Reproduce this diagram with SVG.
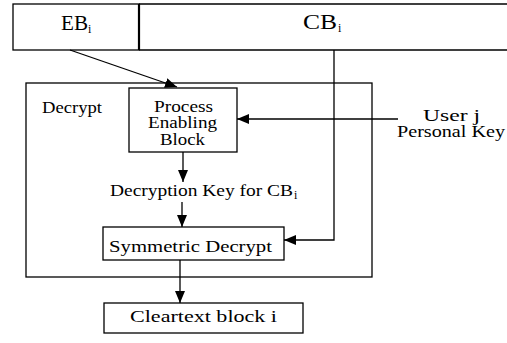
<svg xmlns="http://www.w3.org/2000/svg" width="507" height="343" viewBox="0 0 507 343">
<style>
.box{fill:#fff;stroke:#000;stroke-width:1.3}
.ln{fill:none;stroke:#000;stroke-width:1.3}
.t{font-family:"Liberation Serif","Times New Roman",serif;font-size:16px;fill:#000}
.big{font-size:21px}
.sub{font-size:12px}
</style>
<defs>
<marker id="ah" viewBox="0 0 12 10" refX="12" refY="5" markerWidth="12" markerHeight="10" markerUnits="userSpaceOnUse" orient="auto">
<path d="M0,0 L12,5 L0,10 z" fill="#000"/>
</marker>
</defs>
<rect width="507" height="343" fill="#fff"/>
<g id="eb">
<rect class="box" x="13" y="4" width="126" height="46"/>
<text class="t big" x="61" y="30" textLength="27" lengthAdjust="spacingAndGlyphs">EB</text>
<text class="t sub" x="88" y="33">i</text>
</g>
<g id="cb">
<path class="ln" d="M139,4 H510 M139,50 H510"/>
<line x1="139" y1="4" x2="139" y2="50" stroke="#000" stroke-width="2.2"/>
<text class="t big" x="303" y="29" textLength="34" lengthAdjust="spacingAndGlyphs">CB</text>
<text class="t sub" x="338" y="32">i</text>
</g>
<g id="decrypt">
<rect class="box" x="26" y="83" width="346" height="194"/>
<text class="t" x="42" y="113" textLength="60" lengthAdjust="spacingAndGlyphs">Decrypt</text>
</g>
<g id="peb">
<rect class="box" x="129" y="88" width="108" height="64"/>
<text class="t" x="154" y="112" textLength="59" lengthAdjust="spacingAndGlyphs">Process</text>
<text class="t" x="148" y="128" textLength="69" lengthAdjust="spacingAndGlyphs">Enabling</text>
<text class="t" x="160" y="145" textLength="45" lengthAdjust="spacingAndGlyphs">Block</text>
</g>
<g id="userkey">
<text class="t" x="423" y="121" textLength="57" lengthAdjust="spacingAndGlyphs">User j</text>
<text class="t" x="397" y="137" textLength="108" lengthAdjust="spacingAndGlyphs">Personal Key</text>
</g>
<g id="deckey">
<text class="t" x="110" y="196" textLength="183" lengthAdjust="spacingAndGlyphs">Decryption Key for CB</text>
<text class="t sub" x="294" y="199">i</text>
</g>
<g id="symdec">
<rect class="box" x="103" y="227" width="181" height="33"/>
<text class="t" x="109" y="252" textLength="163" lengthAdjust="spacingAndGlyphs">Symmetric Decrypt</text>
</g>
<g id="clear">
<rect class="box" x="104" y="303" width="199" height="30"/>
<text class="t" x="130" y="322" textLength="147" lengthAdjust="spacingAndGlyphs">Cleartext block i</text>
</g>
<g id="connectors">
<line class="ln" x1="70" y1="50" x2="177" y2="87" marker-end="url(#ah)"/>
<line class="ln" x1="398" y1="119" x2="237" y2="119" marker-end="url(#ah)"/>
<line class="ln" x1="183" y1="152" x2="183" y2="182" marker-end="url(#ah)"/>
<line class="ln" x1="182" y1="202" x2="182" y2="227" marker-end="url(#ah)"/>
<polyline class="ln" points="334,50 334,240 284,240" marker-end="url(#ah)"/>
<line class="ln" x1="180" y1="260" x2="180" y2="303" marker-end="url(#ah)"/>
</g>
</svg>
